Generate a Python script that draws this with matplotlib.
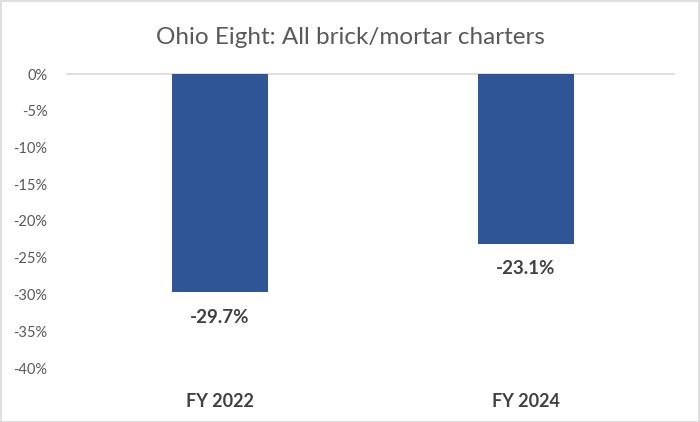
import matplotlib
matplotlib.use("Agg")
import matplotlib.pyplot as plt
from matplotlib.ticker import FuncFormatter
from matplotlib.patches import Rectangle

categories = ["FY 2022", "FY 2024"]
values = [-29.7, -23.1]
title = "Ohio Eight: All brick/mortar charters"
yticks = [0, -5, -10, -15, -20, -25, -30, -35, -40]

plt.rcParams['font.family'] = ['Lato', 'DejaVu Sans']

fig = plt.figure(figsize=(7, 4.22), dpi=100)
W, H = 700, 422
ax = fig.add_axes([67 / W, 1 - 368 / H, (674 - 67) / W, (368 - 74) / H])

x = list(range(len(categories)))
bars = ax.bar(x, values, width=0.314, color="#2F5597", zorder=3)
ax.set_xlim(-0.5, len(categories) - 0.516)
ax.set_ylim(-40, 0)
ax.set_yticks(yticks)
ax.yaxis.set_major_formatter(FuncFormatter(lambda v, p: f"{int(v)}%"))
ax.tick_params(axis='y', length=0, pad=14, labelsize=10.5, labelcolor="#595959")
ax.set_xticks(x)
ax.set_xticklabels(categories, fontsize=13, fontweight='bold', color="#404040")
ax.tick_params(axis='x', length=0, pad=18)

for s in ["left", "right", "bottom"]:
    ax.spines[s].set_visible(False)
ax.spines["top"].set_color("#D9D9D9")
ax.spines["top"].set_linewidth(1.2)

for xi, v in zip(x, values):
    ax.annotate(f"{v:.1f}%", (xi, v), xytext=(0, -18), textcoords="offset points",
                ha="center", va="center", fontsize=13.5, fontweight="bold", color="#404040")

fig.text(0.5, 1 - 38 / H, title, ha="center", va="center", fontsize=17.5, color="#595959")

fig.patches.append(Rectangle((0.5 / W, 0.5 / H), 1 - 1.5 / W, 1 - 1.5 / H, transform=fig.transFigure,
                             fill=False, edgecolor="#D9D9D9", linewidth=1.2))

fig.savefig("out.png", dpi=100)
